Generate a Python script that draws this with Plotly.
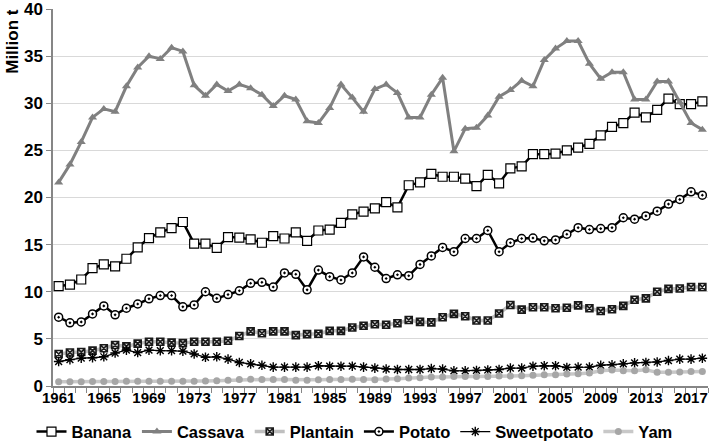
import plotly.graph_objects as go

years = list(range(1961, 2019))
tick_years = years[::4]

banana = [10.6, 10.75, 11.3, 12.5, 12.9, 12.7, 13.5, 14.7, 15.7, 16.3,
          16.75, 17.4, 15.1, 15.1, 14.65, 15.8, 15.75, 15.55, 15.2, 15.9,
          15.65, 16.3, 15.4, 16.5, 16.6, 17.3, 18.2, 18.5, 18.85, 19.5,
          18.95, 21.3, 21.6, 22.5, 22.2, 22.2, 22.0, 21.2, 22.4, 21.5,
          23.1, 23.3, 24.6, 24.6, 24.65, 25.0, 25.3, 25.7, 26.6, 27.5,
          27.9, 29.0, 28.5, 29.3, 30.5, 29.9, 29.9, 30.2]
cassava = [21.6, 23.5, 25.9, 28.5, 29.4, 29.1, 31.8, 33.8, 35.0, 34.7,
           35.9, 35.5, 31.9, 30.8, 32.0, 31.3, 32.0, 31.6, 30.9, 29.7,
           30.8, 30.4, 28.1, 27.9, 29.5, 32.0, 30.6, 29.1, 31.5, 32.0,
           31.1, 28.5, 28.5, 30.9, 32.7, 24.9, 27.3, 27.4, 28.7, 30.7,
           31.4, 32.4, 31.8, 34.6, 35.8, 36.6, 36.6, 34.2, 32.6, 33.3,
           33.3, 30.4, 30.4, 32.3, 32.3, 30.1, 27.9, 27.2]
plantain = [3.4, 3.55, 3.6, 3.75, 4.0, 4.35, 4.2, 4.5, 4.7, 4.7,
            4.6, 4.55, 4.7, 4.7, 4.7, 4.8, 5.3, 5.8, 5.6, 5.8,
            5.8, 5.4, 5.5, 5.55, 5.85, 5.85, 6.2, 6.4, 6.55, 6.5,
            6.65, 7.0, 6.8, 6.75, 7.3, 7.65, 7.4, 6.95, 6.95, 7.7,
            8.6, 8.1, 8.35, 8.35, 8.25, 8.3, 8.55, 8.25, 7.95, 8.15,
            8.5, 9.15, 9.3, 10.0, 10.3, 10.35, 10.5, 10.5]
potato = [7.3, 6.7, 6.8, 7.65, 8.5, 7.55, 8.25, 8.7, 9.25, 9.6,
          9.6, 8.4, 8.6, 10.0, 9.3, 9.7, 10.1, 10.9, 11.0, 10.5,
          12.0, 11.85, 10.2, 12.3, 11.6, 11.25, 12.0, 13.7, 12.6, 11.4,
          11.8, 11.7, 12.9, 13.8, 14.7, 14.25, 15.65, 15.65, 16.5, 14.25,
          15.2, 15.65, 15.7, 15.4, 15.5, 16.1, 16.8, 16.6, 16.7, 16.8,
          17.85, 17.7, 18.05, 18.55, 19.3, 19.8, 20.6, 20.25]
sweetpotato = [2.6, 2.8, 2.95, 3.0, 3.1, 3.5, 3.8, 3.55, 3.8, 3.75,
               3.75, 3.7, 3.4, 3.05, 3.1, 2.85, 2.5, 2.35, 2.2, 2.0,
               2.0, 2.0, 2.0, 2.15, 2.1, 2.1, 2.1, 2.0, 1.9, 1.8,
               1.75, 1.75, 1.75, 1.85, 1.8, 1.6, 1.6, 1.65, 1.7, 1.75,
               1.9, 1.9, 2.1, 2.15, 2.15, 1.97, 2.0, 2.0, 2.2, 2.25,
               2.35, 2.45, 2.5, 2.55, 2.7, 2.85, 2.85, 2.95]
yam = [0.45, 0.45, 0.45, 0.47, 0.47, 0.48, 0.5, 0.5, 0.5, 0.5,
       0.5, 0.5, 0.5, 0.52, 0.55, 0.6, 0.68, 0.72, 0.7, 0.7,
       0.68, 0.62, 0.6, 0.65, 0.68, 0.68, 0.72, 0.68, 0.67, 0.74,
       0.78, 0.85, 0.88, 0.95, 0.95, 1.02, 1.0, 1.0, 1.0, 1.05,
       1.05, 1.1, 1.13, 1.2, 1.2, 1.27, 1.3, 1.38, 1.62, 1.7,
       1.62, 1.62, 1.73, 1.45, 1.45, 1.48, 1.55, 1.55]

FONT = "Liberation Sans"

fig = go.Figure()
fig.add_trace(go.Scatter(
    x=years, y=banana, name="Banana", mode="lines+markers",
    line=dict(color="black", width=2.5),
    marker=dict(symbol="square", size=9, color="white",
                line=dict(color="black", width=1.2))))
fig.add_trace(go.Scatter(
    x=years, y=cassava, name="Cassava", mode="lines+markers",
    line=dict(color="#808080", width=3),
    marker=dict(symbol="triangle-up", size=8, color="#808080")))
fig.add_trace(go.Scatter(
    x=years, y=plantain, name="Plantain", mode="lines+markers",
    line=dict(color="#bfbfbf", width=3.5),
    marker=dict(symbol="square-x-open", size=7, color="#1a1a1a",
                line=dict(color="#1a1a1a", width=1.6))))
fig.add_trace(go.Scatter(
    x=years, y=potato, name="Potato", mode="lines+markers",
    line=dict(color="black", width=2.5),
    marker=dict(symbol="circle-dot", size=8, color="white",
                line=dict(color="black", width=1.5))))
fig.add_trace(go.Scatter(
    x=years, y=sweetpotato, name="Sweetpotato", mode="lines+markers",
    line=dict(color="black", width=1.3),
    marker=dict(symbol="asterisk-open", size=8, color="black",
                line=dict(color="black", width=1.4))))
fig.add_trace(go.Scatter(
    x=years, y=yam, name="Yam", mode="lines+markers",
    line=dict(color="#c8c8c8", width=3.5),
    marker=dict(symbol="circle", size=7, color="#a6a6a6")))

fig.update_layout(
    width=709, height=447,
    margin=dict(l=53, r=1, t=9, b=61, autoexpand=False),
    paper_bgcolor="white", plot_bgcolor="white",
    font=dict(family=FONT, size=15, color="black", weight="bold"),
    showlegend=True,
    legend=dict(orientation="h", xref="container", yref="container",
                x=0.5, xanchor="center", y=0.034, yanchor="middle",
                font=dict(size=16.5, family=FONT, weight="bold"),
                itemwidth=30, tracegroupgap=0, bgcolor="rgba(0,0,0,0)"),
    xaxis=dict(range=[1960.5, 2018.5], tickmode="array", tickvals=tick_years,
               ticktext=[str(y) for y in tick_years], ticks="", automargin=False,
               showgrid=False, showline=True, linecolor="#868686", linewidth=1.5,
               tickfont=dict(size=15, family=FONT, weight="bold"),
               ticklabelstandoff=-3, ticklabeloverflow="allow",
               minor=dict(ticks="outside", tick0=1960.5, dtick=1, ticklen=5,
                          tickcolor="#868686", tickwidth=1, showgrid=False),
               zeroline=False),
    yaxis=dict(range=[0, 40], tickmode="array", tickvals=[0, 5, 10, 15, 20, 25, 30, 35, 40],
               showgrid=True, gridcolor="#d9d9d9", automargin=False,
               gridwidth=1, showline=True, linecolor="#868686", linewidth=1.5,
               ticks="outside", ticklen=5, tickcolor="#868686",
               ticklabeloverflow="allow",
               tickfont=dict(size=17, family=FONT, weight="bold"),
               zeroline=False),
)
fig.add_annotation(text="Million t", xref="paper", yref="y", x=-0.063, y=36.6,
                   textangle=-90, showarrow=False, xanchor="center", yanchor="middle",
                   font=dict(size=17, family=FONT, weight="bold", color="black"))

fig.write_html("out.html", config={"displayModeBar": False},
               post_script="document.body.style.margin='0';")
